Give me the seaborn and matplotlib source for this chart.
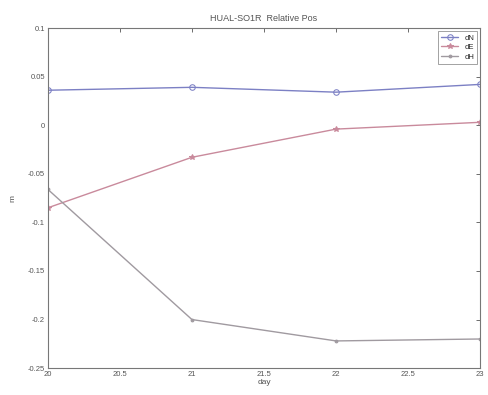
import matplotlib
matplotlib.use("Agg")
import matplotlib.pyplot as plt
import seaborn as sns
import pandas as pd

days = [20, 21, 22, 23]
dN = [0.036, 0.039, 0.034, 0.042]
dE = [-0.085, -0.033, -0.004, 0.003]
dH = [-0.066, -0.200, -0.222, -0.220]

series_names = ["dN", "dE", "dH"]
series_colors = ["#7c80c4", "#c98a9c", "#a09aa0"]
series_markers = ["o", "*", "."]

sns.set_style("white")
plt.rcParams["font.family"] = ["Liberation Sans", "DejaVu Sans"]

df = pd.DataFrame({"day": days * 3,
                   "value": dN + dE + dH,
                   "series": [n for n in series_names for _ in days]})

fig = plt.figure(figsize=(4.88, 3.95), dpi=100)
ax = fig.add_axes([0.098, 0.068, 0.886, 0.861])

for name, color, marker in zip(series_names, series_colors, series_markers):
    sub = df[df["series"] == name]
    sns.lineplot(data=sub, x="day", y="value", ax=ax, color=color,
                 marker=marker, markersize=4, linewidth=1.0,
                 markerfacecolor="none" if marker == "o" else color,
                 markeredgecolor=color, label=name)

ax.set_xlim(20, 23)
ax.set_ylim(-0.25, 0.1)
ax.set_xticks([20, 20.5, 21, 21.5, 22, 22.5, 23])
ax.set_xticklabels(["20", "20.5", "21", "21.5", "22", "22.5", "23"])
ax.set_yticks([-0.25, -0.2, -0.15, -0.1, -0.05, 0, 0.05, 0.1])
ax.set_yticklabels(["-0.25", "-0.2", "-0.15", "-0.1", "-0.05", "0", "0.05", "0.1"])
ax.tick_params(direction="in", length=3, width=0.6, labelsize=5.5,
               colors="#555555", top=True, right=True, pad=2)
for s in ax.spines.values():
    s.set_color("#777777")
    s.set_linewidth(0.8)

ax.set_xlabel("day", fontsize=6, color="#555555", labelpad=1)
ax.set_ylabel("m", fontsize=6, color="#555555", labelpad=8)
ax.set_title("HUAL-SO1R  Relative Pos", fontsize=6.5, color="#555555", pad=5)

leg = ax.legend(loc="upper right", fontsize=5.5, frameon=True, fancybox=False,
                edgecolor="#777777", handlelength=2.2, borderpad=0.4,
                labelspacing=0.3, borderaxespad=0.4)
leg.get_frame().set_linewidth(0.6)

fig.savefig("out.png", dpi=100)
